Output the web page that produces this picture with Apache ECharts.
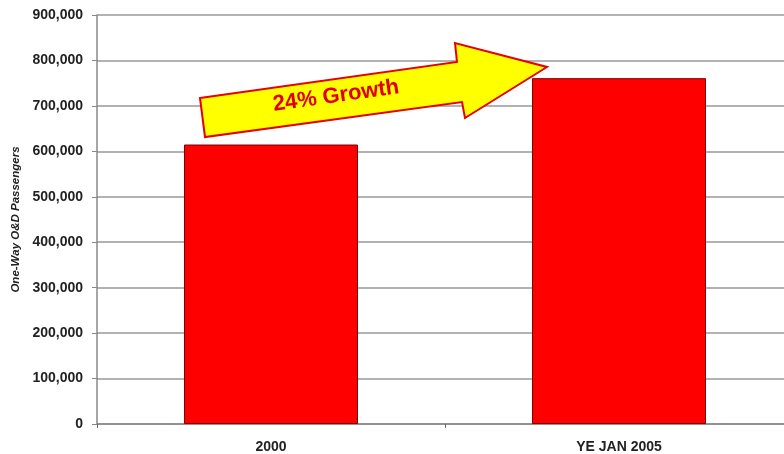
<!DOCTYPE html>
<html>
<head>
<meta charset="utf-8">
<script src="https://cdn.jsdelivr.net/npm/echarts@6/dist/echarts.min.js"></script>
<style>
html, body { margin: 0; padding: 0; background: #fff; }
#chart { width: 784px; height: 454px; }
</style>
</head>
<body>
<div id="chart"></div>
<script>
var categories = ['2000', 'YE JAN 2005'];
var passengers = [615000, 761000];
var yTicks = [0, 900000, 100000]; // min, max, step

var myChart = echarts.init(document.getElementById('chart'));

myChart.setOption({
	animation: false,
	grid: {
		left: 97,
		top: 15,
		width: 696,
		bottom: 30,
		containLabel: false,
		outerBoundsMode: 'none'
	},
	xAxis: {
		type: 'category',
		data: categories,
		axisLine: { lineStyle: { color: '#888', width: 1.5 } },
		axisTick: { show: true, length: 4, lineStyle: { color: '#666' } },
		axisLabel: {
			color: '#222',
			fontFamily: 'Liberation Sans, Arial',
			fontWeight: 'bold',
			fontSize: 14,
			margin: 16
		}
	},
	yAxis: {
		type: 'value',
		min: yTicks[0],
		max: yTicks[1],
		interval: yTicks[2],
		name: 'One-Way O&D Passengers',
		nameLocation: 'middle',
		nameGap: 75,
		nameTextStyle: {
			color: '#222',
			fontFamily: 'Liberation Sans, Arial',
			fontWeight: 'bold',
			fontStyle: 'italic',
			fontSize: 11.5
		},
		axisLine: { show: true, lineStyle: { color: '#888', width: 1.5 } },
		axisTick: { show: true, length: 5, lineStyle: { color: '#888' } },
		splitLine: { lineStyle: { color: '#999', width: 1.5 } },
		axisLabel: {
			color: '#222',
			fontFamily: 'Liberation Sans, Arial',
			fontWeight: 'bold',
			fontSize: 14,
			margin: 14,
			formatter: function (v) { return v.toLocaleString('en-US'); }
		}
	},
	series: [{
		type: 'bar',
		data: passengers,
		barWidth: '50%',
		itemStyle: { color: '#ff0000', borderColor: '#7a0000', borderWidth: 1 }
	}],
	graphic: [{
		type: 'polygon',
		shape: {
			points: [[200, 98], [457, 62], [455, 43], [547, 67], [465, 118], [462, 102], [205, 137]]
		},
		style: { fill: '#ffff00', stroke: '#e60000', lineWidth: 2 },
		z: 10
	}, {
		type: 'text',
		x: 336,
		y: 96,
		rotation: 0.14,
		style: {
			text: '24% Growth',
			fill: '#e00000',
			font: 'bold 22px "Liberation Sans", Arial',
			align: 'center',
			verticalAlign: 'middle'
		},
		z: 11
	}]
});
</script>
</body>
</html>
